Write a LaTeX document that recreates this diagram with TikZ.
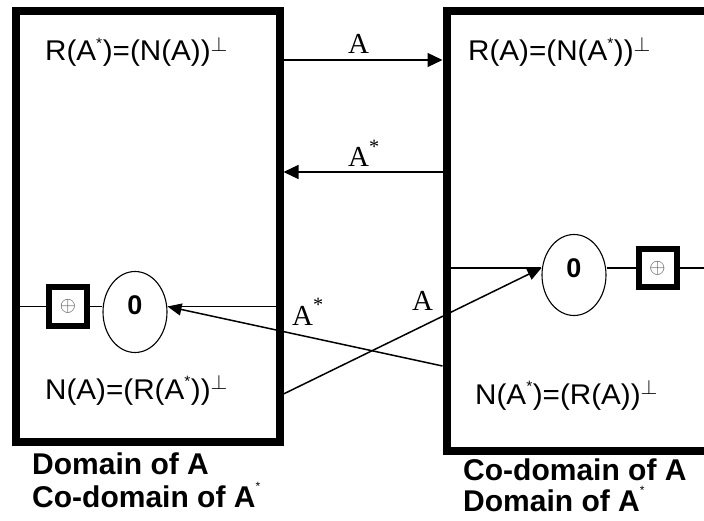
\documentclass[tikz,border=0pt]{standalone}
\usepackage{fontspec}
\setmainfont{Liberation Sans}
\newfontfamily\serifA{Liberation Serif}
\usepackage{graphicx}
\usetikzlibrary{arrows.meta,shapes.geometric}
\newcommand{\frm}[1]{\scalebox{1.04}[1]{\fontsize{28.5}{32}\selectfont #1}}
\newcommand{\sstar}{\textsuperscript{\raisebox{3pt}{\fontsize{15}{15}\selectfont *}}}
\newcommand{\pperp}{$^{\perp}$}
\newcommand{\capstar}{\textsuperscript{\raisebox{7pt}{\mdseries\fontsize{12}{12}\selectfont *}}}
\newcommand{\lblstar}{\textsuperscript{\raisebox{4pt}{*}}}
\tikzset{
  frame/.style={draw, line width=8pt, rectangle, inner sep=0pt},
  zero/.style={draw, ellipse, line width=1.1pt, inner sep=0pt, minimum width=64pt, minimum height=81pt,
    font=\fontsize{27}{27}\selectfont\bfseries, text height=19.3pt, text depth=14pt},
  osum/.style={draw, rectangle, line width=6pt, inner sep=0pt, minimum size=38pt,
    font=\fontsize{20}{20}\selectfont, text=black!70},
  formula/.style={inner sep=0pt, anchor=base west},
  caption/.style={inner sep=0pt, anchor=base west, font=\fontsize{30}{30}\selectfont\bfseries},
  maplbl/.style={inner sep=0pt, anchor=base west, font=\serifA\fontsize{29}{29}\selectfont},
  hline/.style={line width=1.1pt},
  maparr/.style={line width=1.3pt, -{Triangle[length=15pt,width=14pt]}},
  crossarr/.style={line width=1.5pt, -{Triangle[length=14pt,width=12pt]}},
}
\begin{document}
\begin{tikzpicture}[x=1pt,y=-1pt]
\useasboundingbox[fill=white] (0,0) rectangle (704,521);
\begin{scope}
\clip (0,0) rectangle (704,521);
% frames
\node[frame, minimum width=264pt, minimum height=430.5pt] (L) at (147.5,226.75) {};
\node[frame, minimum width=313.5pt, minimum height=439pt] (R) at (603.25,231) {};
% zero ellipses and direct-sum boxes
\node[zero] (ellL) at (135,312) {0};
\node[osum] (sqL) at (68,306.5) {$\oplus$};
\node[zero] (ellR) at (574,275) {0};
\node[osum] (sqR) at (657.5,268) {$\oplus$};
\coordinate (rend) at (704,268);
% horizontal lines
\draw[hline] (L.west |- sqL) -- (sqL.west);
\draw[hline] (sqL.east) -- (sqL.east -| ellL.west);
\draw[hline] (ellL.east |- sqL) -- (L.east |- sqL);
\draw[hline] (R.west |- sqR) -- (sqR -| ellR.west);
\draw[hline] (ellR.east |- sqR) -- (sqR.west);
\draw[hline] (sqR.east) -- (rend);
\end{scope}
% mapping arrows
\draw[maparr] (L.east |- 0,60) -- (R.west |- 0,60);
\draw[maparr] (R.west |- 0,172) -- (L.east |- 0,172);
\draw[crossarr] (R.west |- 0,366) -- (ellL.east |- sqL);
\draw[crossarr] (L.east |- 0,394) -- (ellR.west |- sqR);
% arrow labels
\node[maplbl] (a1) at (348,54) {A};
\node[maplbl] (a2) at (348,167) {A\lblstar};
\node[maplbl] (a3) at (292,325) {A\lblstar};
\node[maplbl] (a4) at (412,310) {A};
% formulas
\node[formula] (f1) at (45,61) {\frm{R(A\sstar)=(N(A))\pperp}};
\node[formula] (f2) at (468,61) {\frm{R(A)=(N(A\sstar))\pperp}};
\node[formula] (f3) at (45,399) {\frm{N(A)=(R(A\sstar))\pperp}};
\node[formula] (f4) at (475,404) {\frm{N(A\sstar)=(R(A))\pperp}};
% captions
\node[caption] (c1) at (32,474) {Domain of A};
\node[caption] (c2) at (32,507) {Co-domain of A\capstar};
\node[caption] (c3) at (463,480) {Co-domain of A};
\node[caption] (c4) at (463,511) {Domain of A\capstar};
\end{tikzpicture}
\end{document}
